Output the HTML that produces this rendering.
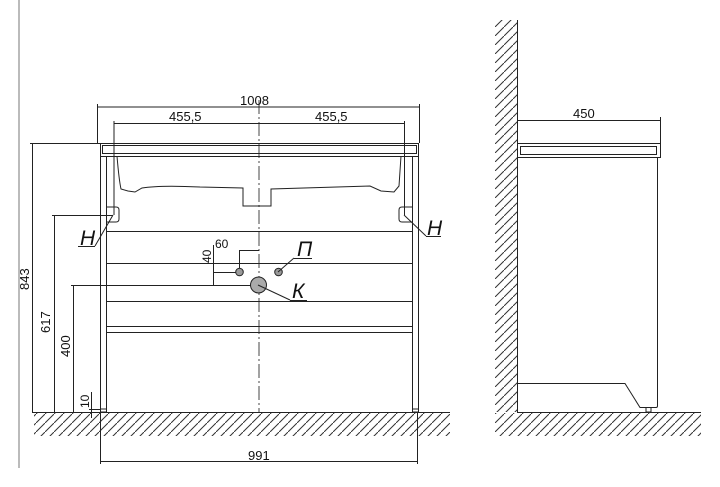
<!DOCTYPE html>
<html><head><meta charset="utf-8"><style>
html,body{margin:0;padding:0;background:#fff}
svg{display:block}
text{font-family:"Liberation Sans",sans-serif;font-size:13px;fill:#111}
</style></head><body>
<svg width="720" height="487" viewBox="0 0 720 487" xmlns="http://www.w3.org/2000/svg">
<defs>
<pattern id="h" width="9" height="9" patternUnits="userSpaceOnUse">
<line x1="0" y1="9" x2="9" y2="0" stroke="#333" stroke-width="1"/>
</pattern>
</defs>
<g fill="none" stroke="#222" stroke-width="1">
<line x1="19" y1="0" x2="19" y2="468" stroke="#777"/>
<rect x="34" y="413" width="416" height="23" fill="url(#h)" stroke="none"/>
<line x1="32" y1="412.5" x2="450" y2="412.5"/>
<line x1="259" y1="100" x2="259" y2="412" stroke-dasharray="14,3,2,3" stroke="#444"/>
<line x1="97" y1="107" x2="419" y2="107"/>
<line x1="97.5" y1="104" x2="97.5" y2="143"/>
<line x1="419.5" y1="104" x2="419.5" y2="143"/>
<line x1="114" y1="123.5" x2="405" y2="123.5"/>
<line x1="114" y1="121" x2="114" y2="215"/>
<line x1="404.5" y1="121" x2="404.5" y2="215"/>
<rect x="100.5" y="143.5" width="318" height="13"/>
<rect x="102.5" y="145.5" width="314" height="8"/>
<line x1="100.5" y1="156" x2="100.5" y2="411"/>
<line x1="106.5" y1="156" x2="106.5" y2="411"/>
<line x1="412.5" y1="156" x2="412.5" y2="411"/>
<line x1="418.5" y1="156" x2="418.5" y2="411"/>
<rect x="100.5" y="409" width="6" height="3"/>
<rect x="412.5" y="409" width="6" height="3"/>
<path d="M117 156 Q119 180 121 189 L128 191 L135 192 L142 188 Q160 185 200 187 L243 188 L243 206 L271 206 L271 189 L370 186 L381 191 L394 192 L399 186 Q400 170 401 156"/>
<path d="M106.5 207 L116 207 Q119 207 119 210 L119 219 Q119 222 116 222 L106.5 222"/>
<path d="M412.5 207 L402 207 Q399 207 399 210 L399 219 Q399 222 402 222 L412.5 222"/>
<line x1="106" y1="231.5" x2="412" y2="231.5"/>
<line x1="106" y1="263.5" x2="412" y2="263.5"/>
<line x1="106" y1="301.5" x2="412" y2="301.5"/>
<line x1="106" y1="326.5" x2="412" y2="326.5"/>
<line x1="106" y1="332.5" x2="412" y2="332.5"/>
<line x1="32.5" y1="143" x2="32.5" y2="412"/>
<line x1="30" y1="143.5" x2="100" y2="143.5"/>
<line x1="54.5" y1="215" x2="54.5" y2="412"/>
<line x1="52" y1="215.5" x2="113" y2="215.5"/>
<line x1="73.5" y1="285" x2="73.5" y2="412"/>
<line x1="71" y1="285.5" x2="258" y2="285.5"/>
<line x1="91.5" y1="392" x2="91.5" y2="418"/>
<line x1="89" y1="409.5" x2="100" y2="409.5"/>
<line x1="213.5" y1="245" x2="213.5" y2="285"/>
<line x1="213" y1="272.5" x2="239" y2="272.5"/>
<line x1="239.5" y1="250" x2="239.5" y2="272"/>
<line x1="239" y1="250.5" x2="259" y2="250.5"/>
<circle cx="239.5" cy="272" r="3.8" fill="#999"/>
<circle cx="278.5" cy="272" r="3.8" fill="#999"/>
<circle cx="258.5" cy="285" r="8" fill="#aaa"/>
<line x1="278" y1="272" x2="294" y2="258"/><line x1="294" y1="258.5" x2="312" y2="258.5"/>
<line x1="258" y1="285" x2="290" y2="300"/><line x1="290" y1="300.5" x2="307" y2="300.5"/>
<line x1="113" y1="215" x2="95" y2="246"/><line x1="78" y1="246.5" x2="95" y2="246.5"/>
<line x1="404" y1="215" x2="426" y2="236"/><line x1="426" y1="236.5" x2="441" y2="236.5"/>
<line x1="100.5" y1="412" x2="100.5" y2="464"/>
<line x1="417.5" y1="412" x2="417.5" y2="464"/>
<line x1="100" y1="461.5" x2="418" y2="461.5"/>
<rect x="495" y="20" width="22" height="392" fill="url(#h)" stroke="none"/>
<rect x="495" y="413" width="206" height="23" fill="url(#h)" stroke="none"/>
<line x1="517.5" y1="20" x2="517.5" y2="412"/>
<line x1="517" y1="412.5" x2="701" y2="412.5"/>
<line x1="517" y1="120.5" x2="661" y2="120.5"/>
<line x1="660.5" y1="117" x2="660.5" y2="143"/>
<rect x="517.5" y="143.5" width="143" height="14"/>
<rect x="520.5" y="146.5" width="136" height="8"/>
<path d="M657.5 158 L657.5 406 Q657.5 407.5 656 407.5 L640 407.5 L625 383.5 L517 383.5"/>
<rect x="646" y="407.5" width="5" height="4.5"/>
</g>
<g>
<text x="240" y="105">1008</text>
<text x="169" y="121">455,5</text>
<text x="315" y="121">455,5</text>
<text x="573" y="118">450</text>
<text x="248" y="460">991</text>
<text x="215" y="248" style="font-size:12px">60</text>
<text transform="translate(211,263) rotate(-90)" style="font-size:12px">40</text>
<text transform="translate(29,290) rotate(-90)">843</text>
<text transform="translate(50,333) rotate(-90)">617</text>
<text transform="translate(70,357) rotate(-90)">400</text>
<text transform="translate(89,408) rotate(-90)" style="font-size:12px">10</text>
<text x="80" y="245" style="font-size:21px;font-style:italic">Н</text>
<text x="427" y="235" style="font-size:21px;font-style:italic">Н</text>
<text x="297" y="256" style="font-size:21px;font-style:italic">П</text>
<text x="292" y="298" style="font-size:21px;font-style:italic">К</text>
</g>
</svg>
</body></html>
